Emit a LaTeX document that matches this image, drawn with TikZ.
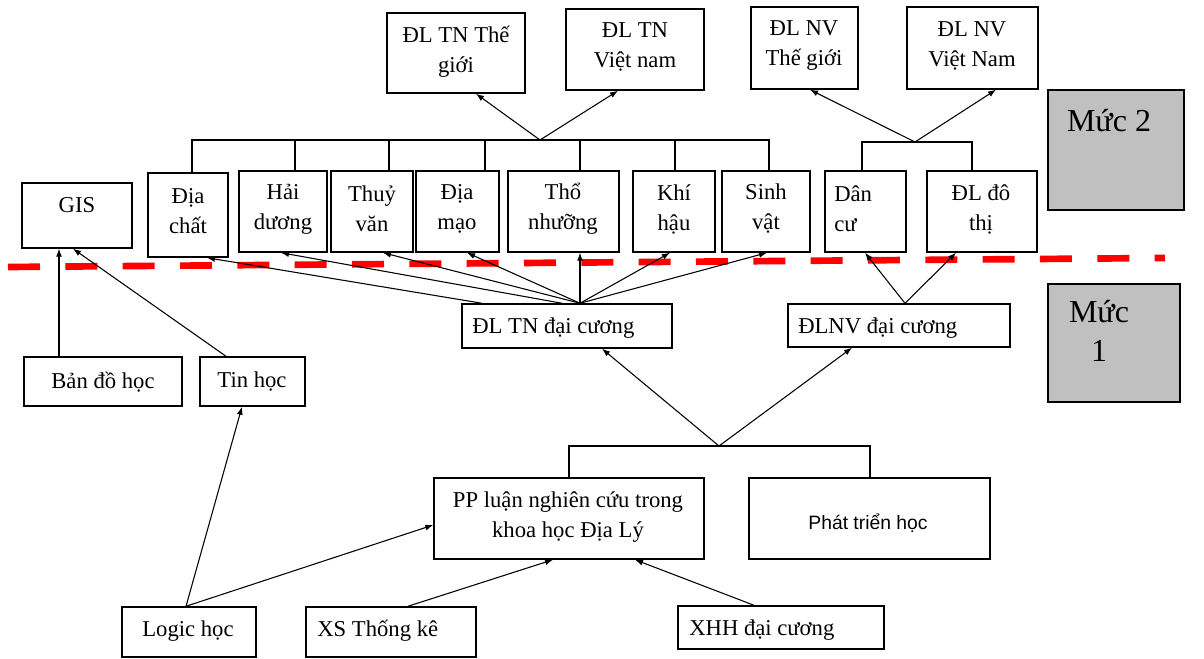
\documentclass[tikz,border=0pt]{standalone}
\usepackage{fontspec}
\setmainfont{Liberation Serif}
\newfontfamily\labelsans{Liberation Sans}
\usetikzlibrary{arrows.meta,fit}
\begin{document}
\begin{tikzpicture}[x=0.75pt,y=-0.75pt,
  box/.style={draw, line width=1.1pt, inner sep=0pt, fit={#1}},
  level/.style={draw, line width=1.5pt, fill={rgb,255:red,192;green,192;blue,192}, inner sep=0pt, fit={#1}},
  txt/.style={inner sep=0pt, align=center, font=\fontsize{17}{22.5}\selectfont},
  big/.style={inner sep=0pt, align=center, font=\fontsize{24}{29}\selectfont},
  sans/.style={inner sep=0pt, font=\labelsans\fontsize{14.5}{17}\selectfont},
  link/.style={line width=0.8pt},
  arr/.style={line width=0.8pt, -{Latex[length=6pt,width=4.5pt]}},
  boundary/.style={draw={rgb,255:red,255;green,0;blue,0}, line width=5pt, dash pattern=on 24pt off 19pt}
]
\fill[white] (0,0) rectangle (1204,659);
\useasboundingbox (0,0) rectangle (1204,659);

% ---- upper row: regional geography
\node[box={(387,13) (525,93)}] (tntg) {};
\node[txt] (tntg-t) at (456,52) {ĐL TN Thế\\giới};
\node[box={(566,9) (704,90)}] (tnvn) {};
\node[txt] (tnvn-t) at (635,47) {ĐL TN\\Việt nam};
\node[box={(751,7) (858,89)}] (nvtg) {};
\node[txt] (nvtg-t) at (804,46) {ĐL NV\\Thế giới};
\node[box={(907,7) (1038,89)}] (nvvn) {};
\node[txt] (nvvn-t) at (972,46) {ĐL NV\\Việt Nam};
\node[level={(1048,90) (1184,210)}] (m2) {};
\node[big] (m2-t) at (1109,121) {Mức 2};

% ---- branch disciplines
\node[box={(22,183) (132,248)}] (gis) {};
\node[txt] (gis-t) at (77,205) {GIS};
\node[box={(148,173) (228,257)}] (dc) {};
\node[txt] (dc-t) at (188,211) {Địa\\chất};
\node[box={(239,171) (327,252)}] (hd) {};
\node[txt] (hd-t) at (283,209) {Hải\\dương};
\node[box={(331,171) (413,252)}] (tv) {};
\node[txt] (tv-t) at (372,209) {Thuỷ\\văn};
\node[box={(416,171) (499,252)}] (dm) {};
\node[txt] (dm-t) at (457,209) {Địa\\mạo};
\node[box={(508,171) (619,252)}] (tn) {};
\node[txt] (tn-t) at (563,209) {Thổ\\nhưỡng};
\node[box={(633,171) (715,252)}] (kh) {};
\node[txt] (kh-t) at (674,209) {Khí\\hậu};
\node[box={(722,171) (810,252)}] (sv) {};
\node[txt] (sv-t) at (766,209) {Sinh\\vật};
\node[box={(825,171) (906,252)}] (dan) {};
\node[txt, anchor=west, align=left] (dan-t) at (834,209) {Dân\\cư};
\node[box={(927,171) (1037,252)}] (dt) {};
\node[txt] (dt-t) at (981,209) {ĐL đô\\thị};

% ---- general courses
\node[box={(462,304) (672,348)}] (tndc) {};
\node[txt, anchor=west] (tndc-t) at (472,328) {ĐL TN đại cương};
\node[box={(788,304) (1010,347)}] (nvdc) {};
\node[txt, anchor=west] (nvdc-t) at (798,328) {ĐLNV đại cương};
\node[level={(1048,284) (1180,402)}] (m1) {};
\node[big] (m1-t) at (1099,331) {Mức\\1};
\node[box={(24,357) (182,406)}] (bdh) {};
\node[txt] (bdh-t) at (103,382) {Bản đồ học};
\node[box={(200,357) (305,406)}] (tin) {};
\node[txt] (tin-t) at (252,382) {Tin học};

% ---- foundations
\node[box={(434,478) (704,559)}] (pp) {};
\node[txt] (pp-t) at (568,517) {PP luận nghiên cứu trong\\khoa học Địa Lý};
\node[box={(749,478) (990,559)}] (pth) {};
\node[sans] (pth-t) at (868,523) {Phát triển học};
\node[box={(122,607) (256,657)}] (lg) {};
\node[txt] (lg-t) at (188,631) {Logic học};
\node[box={(306,607) (476,657)}] (xs) {};
\node[txt, anchor=west] (xs-t) at (317,631) {XS Thống kê};
\node[box={(678,606) (884,649)}] (xhh) {};
\node[txt, anchor=west] (xhh-t) at (689,630) {XHH đại cương};

% ---- level boundary
\draw[boundary] (8,267) -- (1165,258);

% ---- bracket joining the physical branches
\coordinate (ap1) at (540,140);
\draw[link] (192,0 |- dc.north) -- (192,140) -- (769,140) -- (769,0 |- sv.north);
\foreach \x/\n in {295/hd,389/tv,485/dm,580/tn,675/kh}
  \draw[link] (\x,140) -- (\x,0 |- \n.north);
\draw[arr] (ap1) -- (476,0 |- tntg.south);
\draw[arr] (ap1) -- (618,0 |- tnvn.south);

% ---- bracket joining the human branches
\coordinate (ap2) at (915,142);
\draw[link] (862,0 |- dan.north) -- (862,142) -- (972,142) -- (972,0 |- dt.north);
\draw[arr] (ap2) -- (810,0 |- nvtg.south);
\draw[arr] (ap2) -- (996,0 |- nvvn.south);

% ---- physical geography to its branches
\draw[arr] (482,0 |- tndc.north) -- (207,0 |- dc.south);
\draw[arr] (562,0 |- tndc.north) -- (281,0 |- hd.south);
\coordinate (ap3) at (580,0 |- tndc.north);
\draw[arr] (ap3) -- (383,0 |- tv.south);
\draw[arr] (ap3) -- (467,0 |- dm.south);
\draw[arr] (ap3) -- (580,0 |- tn.south);
\draw[arr] (ap3) -- (670,0 |- kh.south);
\draw[arr] (ap3) -- (767,0 |- sv.south);

% ---- human geography to its branches
\coordinate (ap4) at (905,0 |- nvdc.north);
\draw[arr] (ap4) -- (865,0 |- dan.south);
\draw[arr] (ap4) -- (956,0 |- dt.south);

% ---- methodology and development studies
\coordinate (ap5) at (719,446);
\draw[link] (569,0 |- pp.north) -- (569,446) -- (870,446) -- (870,0 |- pth.north);
\draw[arr] (ap5) -- (602,0 |- tndc.south);
\draw[arr] (ap5) -- (852,0 |- nvdc.south);

% ---- GIS sources
\draw[arr] (59,0 |- bdh.north) -- (59,0 |- gis.south);
\draw[arr] (226,0 |- tin.north) -- (73,0 |- gis.south);

% ---- bottom inputs
\draw[arr] (186,0 |- lg.north) -- (242,0 |- tin.south);
\draw[arr] (186,0 |- lg.north) -- (pp.west |- 0,525);
\draw[arr] (408,0 |- xs.north) -- (553,0 |- pp.south);
\draw[arr] (754,0 |- xhh.north) -- (635,0 |- pp.south);
\end{tikzpicture}
\end{document}
